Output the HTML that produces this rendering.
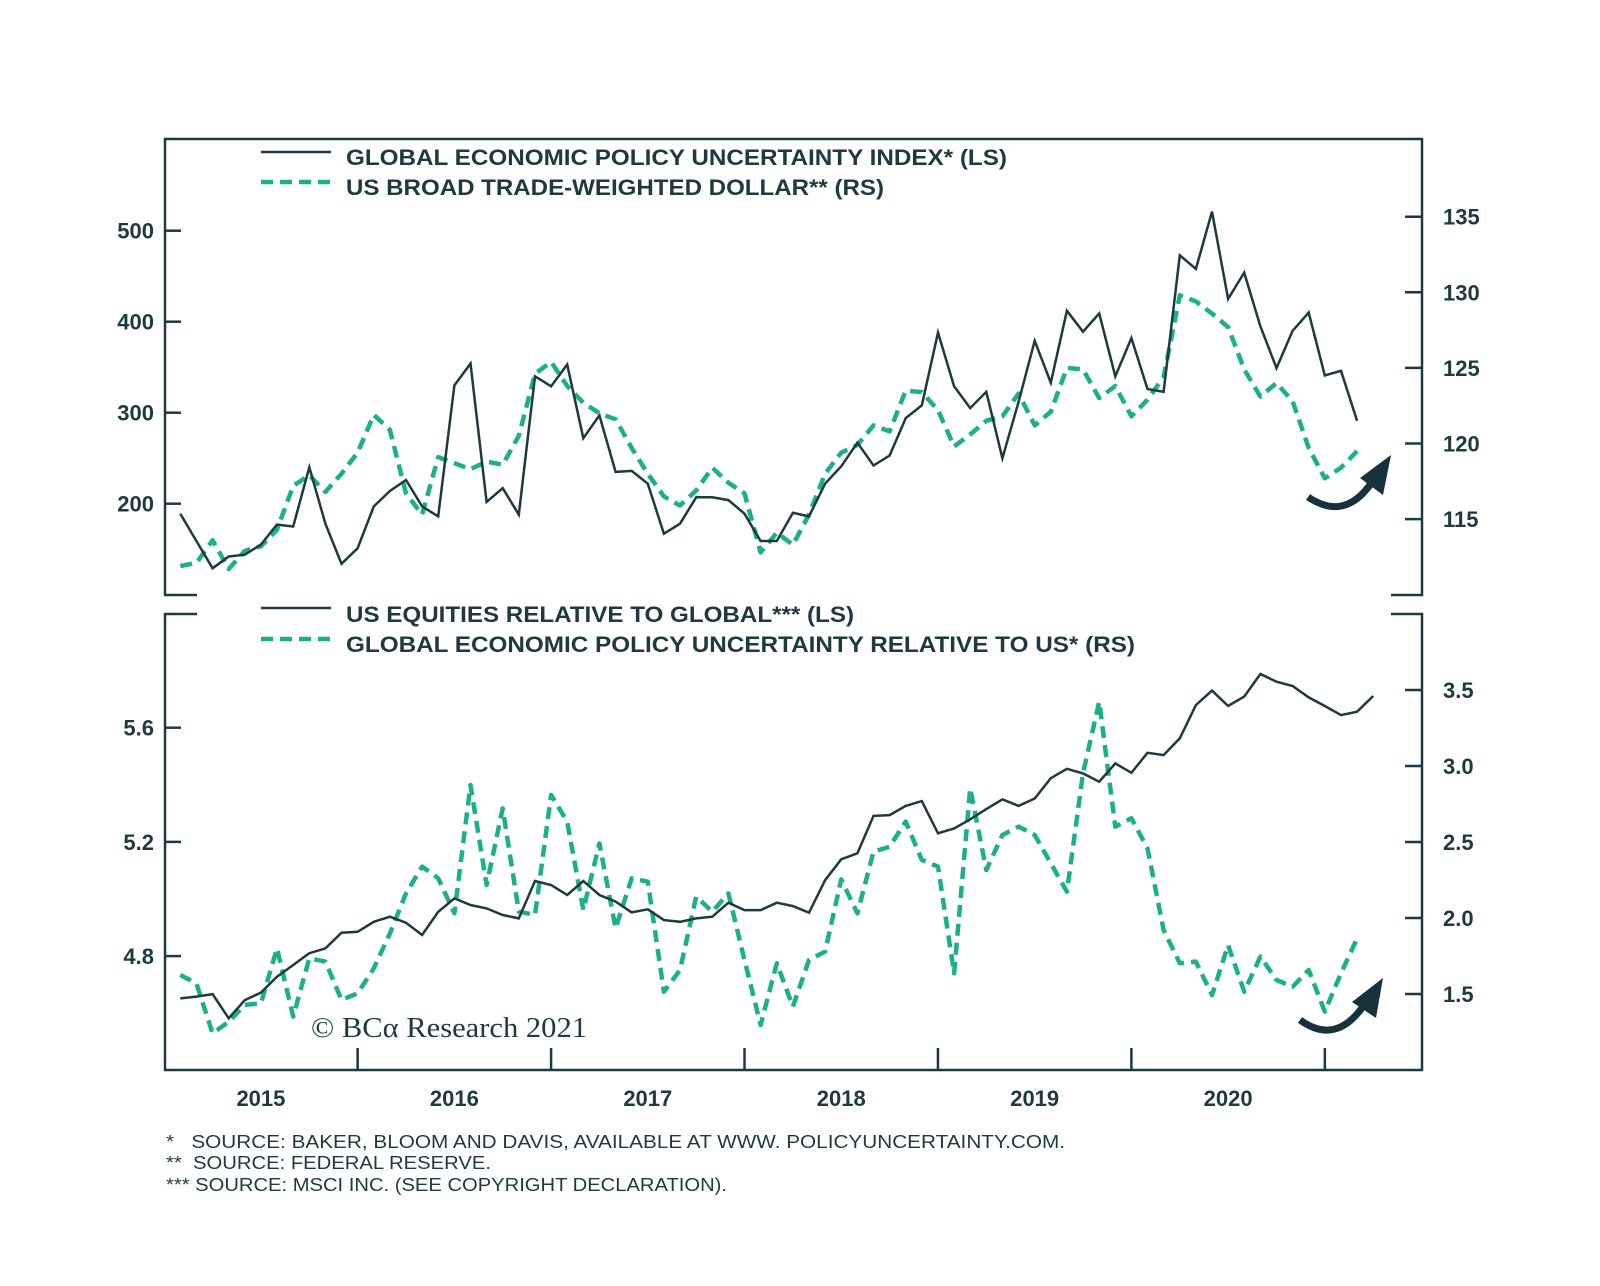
<!DOCTYPE html>
<html><head><meta charset="utf-8"><style>
body{margin:0;background:#fff;}
svg{display:block;font-family:"Liberation Sans",Arial,sans-serif;}
.pre{white-space:pre;}
</style></head><body>
<svg id="chart" width="1600" height="1286" viewBox="0 0 1600 1286" xmlns="http://www.w3.org/2000/svg">
<g id="frames" fill="none" stroke="#1d3a3e" stroke-width="2.5">
  <path d="M197,595 H165 V139 H1422 V595 H1391"/>
  <path d="M197,614 H165 V1070 H1422 V614 H1391"/>
</g>
<g id="ticks" stroke="#1d3a3e" stroke-width="2.5"></g>
<g id="labels" fill="#1d3a3e" font-weight="bold" font-size="22"></g>
<g id="series" fill="none"></g>
<g font-weight="bold" font-size="22" fill="#1d3a3e">
  <line x1="261" y1="152" x2="331" y2="152" stroke="#1d3a3e" stroke-width="2.5"/>
  <text x="346" y="165" textLength="661" lengthAdjust="spacingAndGlyphs">GLOBAL ECONOMIC POLICY UNCERTAINTY INDEX* (LS)</text>
  <line x1="261" y1="182" x2="331" y2="182" stroke="#1bb088" stroke-width="4.5" stroke-dasharray="12,7"/>
  <text x="346" y="195" textLength="538" lengthAdjust="spacingAndGlyphs">US BROAD TRADE-WEIGHTED DOLLAR** (RS)</text>
</g>
<g font-weight="bold" font-size="22" fill="#1d3a3e">
  <line x1="261" y1="608" x2="331" y2="608" stroke="#1d3a3e" stroke-width="2.5"/>
  <text x="346" y="622" textLength="508" lengthAdjust="spacingAndGlyphs">US EQUITIES RELATIVE TO GLOBAL*** (LS)</text>
  <line x1="261" y1="639" x2="331" y2="639" stroke="#1bb088" stroke-width="4.5" stroke-dasharray="12,7"/>
  <text x="346" y="652" textLength="789" lengthAdjust="spacingAndGlyphs">GLOBAL ECONOMIC POLICY UNCERTAINTY RELATIVE TO US* (RS)</text>
</g>
<text x="311" y="1037" font-family="'Liberation Serif',serif" font-size="29" fill="#1d3a3e" textLength="276" lengthAdjust="spacingAndGlyphs">© BCα Research 2021</text>
<g font-size="18" fill="#1d3a3e">
  <text class="pre" x="166" y="1148" textLength="899" lengthAdjust="spacingAndGlyphs">*   SOURCE: BAKER, BLOOM AND DAVIS, AVAILABLE AT WWW. POLICYUNCERTAINTY.COM.</text>
  <text class="pre" x="166" y="1169" textLength="325" lengthAdjust="spacingAndGlyphs">**  SOURCE: FEDERAL RESERVE.</text>
  <text class="pre" x="166" y="1191" textLength="561" lengthAdjust="spacingAndGlyphs">*** SOURCE: MSCI INC. (SEE COPYRIGHT DECLARATION).</text>
</g>
<g fill="#17323a" stroke="#17323a">
  <path d="M1308,497 Q1345,522 1372,482" fill="none" stroke-width="7"/>
  <polygon points="1391,455 1383,495 1360,478" stroke="none"/>
</g>
<g fill="#17323a" stroke="#17323a">
  <path d="M1300,1020 Q1336,1046 1364,1005" fill="none" stroke-width="7"/>
  <polygon points="1383,978 1376,1018 1352,1002" stroke="none"/>
</g>
</svg>
<script>
const uncertaintyIndex = [189,159,129,142,144,155,177,175,240,178,134,151,197,214,226,197,186,330,354,202,217,188,340,329,353,272,297,235,236,222,167,178,207,207,204,189,159,159,190,186,222,241,267,242,253,294,308,388,329,305,323,250,312,379,333,412,389,409,340,382,326,323,473,458,521,425,454,395,349,390,410,341,346,291];
const dollarIndex = [111.9,112.1,113.6,111.7,112.9,113.2,114.3,117.2,117.9,116.8,118.0,119.4,121.9,120.9,116.7,115.3,119.1,118.7,118.3,118.8,118.6,120.5,124.6,125.4,123.8,122.7,122.0,121.6,119.7,118.0,116.5,115.9,116.9,118.4,117.4,116.7,112.8,114.1,113.3,115.3,118.0,119.4,119.9,121.2,120.8,123.5,123.4,122.2,119.8,120.6,121.5,121.8,123.3,121.2,122.1,125.0,124.9,123.0,123.8,121.8,122.9,124.4,129.8,129.4,128.6,127.7,124.9,123.1,124.0,122.8,119.7,117.7,118.4,119.5];
const equitiesRelative = [4.652,4.658,4.667,4.582,4.646,4.672,4.728,4.769,4.810,4.827,4.882,4.885,4.920,4.938,4.917,4.874,4.955,5.002,4.979,4.967,4.944,4.932,5.063,5.049,5.014,5.063,5.014,4.991,4.953,4.964,4.926,4.920,4.932,4.938,4.987,4.961,4.961,4.987,4.975,4.952,5.066,5.139,5.160,5.291,5.294,5.326,5.343,5.230,5.247,5.279,5.315,5.349,5.326,5.352,5.423,5.456,5.440,5.411,5.475,5.442,5.512,5.504,5.563,5.679,5.730,5.676,5.709,5.788,5.761,5.746,5.706,5.676,5.644,5.656,5.711];
const uncertaintyRelative = [1.625,1.570,1.241,1.318,1.428,1.439,1.800,1.351,1.735,1.713,1.461,1.504,1.669,1.899,2.162,2.338,2.261,2.031,2.875,2.217,2.721,2.042,2.020,2.809,2.634,2.053,2.491,1.932,2.261,2.239,1.515,1.658,2.140,2.042,2.162,1.724,1.296,1.702,1.417,1.724,1.779,2.254,2.031,2.436,2.469,2.634,2.382,2.338,1.636,2.853,2.316,2.546,2.601,2.546,2.360,2.173,2.952,3.423,2.601,2.656,2.458,1.921,1.702,1.713,1.493,1.822,1.515,1.746,1.592,1.548,1.658,1.384,1.636,1.866];
const years = ["2015","2016","2017","2018","2019","2020"];
const topLeftTicks = [200,300,400,500];
const topRightTicks = [115,120,125,130,135];
const botLeftTicks = [4.8,5.2,5.6];
const botRightTicks = [1.5,2.0,2.5,3.0,3.5];

const NS = "http://www.w3.org/2000/svg";
const X0 = 164.2, MONTH = 16.12;
const xAt = i => X0 + (i + 1) * MONTH;
const yTopL = v => 230.7 + (500 - v) * 0.91;
const yTopR = v => 216.7 + (135 - v) * 15.12;
const yBotL = v => 727.7 + (5.6 - v) * 285.5;
const yBotR = v => 690 + (3.5 - v) * 152;

function mk(tag, attrs, parent) {
  const e = document.createElementNS(NS, tag);
  for (const k in attrs) e.setAttribute(k, attrs[k]);
  parent.appendChild(e);
  return e;
}
const ticks = document.getElementById('ticks');
const labels = document.getElementById('labels');
const series = document.getElementById('series');

function leftAxis(vals, yf, fmt, nm) {
  vals.forEach(v => {
    const y = yf(v);
    const t = mk('line', {x1:165, x2:181, y1:y, y2:y}, ticks);
    
    
    const l = mk('text', {x:154, y:y+8, 'text-anchor':'end'}, labels);
    l.textContent = fmt(v);
    
    
  });
}
function rightAxis(vals, yf, fmt, nm) {
  vals.forEach(v => {
    const y = yf(v);
    const t = mk('line', {x1:1405, x2:1422, y1:y, y2:y}, ticks);
    
    
    const l = mk('text', {x:1443, y:y+8}, labels);
    l.textContent = fmt(v);
    
    
  });
}
leftAxis(topLeftTicks, yTopL, v => String(v), 'top-left-axis');
rightAxis(topRightTicks, yTopR, v => String(v), 'top-right-axis');
leftAxis(botLeftTicks, yBotL, v => v.toFixed(1), 'bottom-left-axis');
rightAxis(botRightTicks, yBotR, v => v.toFixed(1), 'bottom-right-axis');

years.forEach((yr, k) => {
  const x = X0 + 12 * MONTH * (k + 1);
  const t = mk('line', {x1:x, x2:x, y1:1048, y2:1070}, ticks);
  
  
  const l = mk('text', {x: X0 + 12 * MONTH * (k + 0.5), y:1106, 'text-anchor':'middle'}, labels);
  l.textContent = yr;
  
  
});

function line(data, yf, dashed, nm) {
  const d = data.map((v, i) => (i ? 'L' : 'M') + xAt(i).toFixed(1) + ',' + yf(v).toFixed(1)).join(' ');
  const attrs = dashed
    ? {d, stroke:'#1bb088', 'stroke-width':4.5, 'stroke-dasharray':'12,7', 'stroke-linejoin':'round'}
    : {d, stroke:'#1d3a3e', 'stroke-width':2.5, 'stroke-linejoin':'miter'};
  const p = mk('path', attrs, series);
  
  
}
line(dollarIndex, yTopR, true, 'dollar-line');
line(uncertaintyIndex, yTopL, false, 'uncertainty-line');
line(uncertaintyRelative, yBotR, true, 'relative-uncertainty-line');
line(equitiesRelative, yBotL, false, 'equities-relative-line');
</script>
</body></html>
